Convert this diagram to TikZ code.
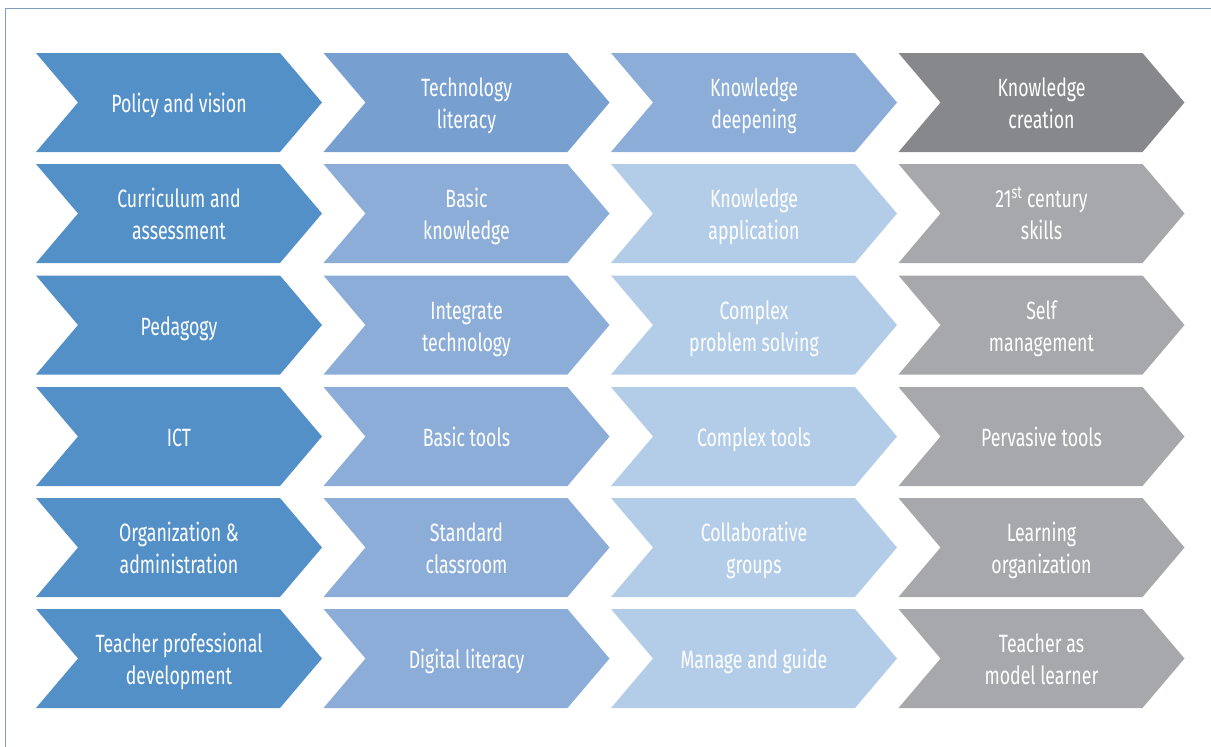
\documentclass[tikz,border=0pt]{standalone}
\usepackage{fontspec}
\setmainfont{Fira Sans}[FakeStretch=0.71]
\usetikzlibrary{calc}
\definecolor{cA}{HTML}{5490C8}
\definecolor{cB}{HTML}{779FD0}
\definecolor{cC}{HTML}{8CADD8}
\definecolor{cD}{HTML}{B3CDE8}
\definecolor{cE}{HTML}{87888C}
\definecolor{cF}{HTML}{A6A8AB}
\definecolor{frame}{HTML}{7E9DBF}
\tikzset{
  lbl/.style={text=white, align=center, font=\fontsize{25}{32}\selectfont, inner sep=0pt},
}
\newcommand{\brk}{\strut\\\strut}
% #1 name, #2 left x, #3 top y, #4 colour, #5 text
\newcommand{\chev}[5]{%
  \fill[#4] (#2,#3) -- ++(244,0) -- ++(42,49.5) -- ++(-42,49.5) -- ++(-244,0) -- ++(42,-49.5) -- cycle;
  \node[lbl] (#1) at ($(#2,#3)+(143,53.3)$) {\strut #5\strut};
}
\begin{document}
\begin{tikzpicture}[x=1pt,y=-1pt]
\useasboundingbox (0,0) rectangle (1211,747);
\draw[frame, line width=1.3pt] (5.5,760) -- (5.5,8.5) -- (1220,8.5);
% column 1
\chev{a1}{36}{53}{cA}{Policy and vision}
\chev{a2}{36}{164}{cA}{Curriculum and\brk assessment}
\chev{a3}{36}{275.5}{cA}{Pedagogy}
\chev{a4}{36}{387}{cA}{ICT}
\chev{a5}{36}{498}{cA}{Organization \&\brk administration}
\chev{a6}{36}{609}{cA}{Teacher professional\brk development}
% column 2
\chev{b1}{323.5}{53}{cB}{Technology\brk literacy}
\chev{b2}{323.5}{164}{cC}{Basic\brk knowledge}
\chev{b3}{323.5}{275.5}{cC}{Integrate\brk technology}
\chev{b4}{323.5}{387}{cC}{Basic tools}
\chev{b5}{323.5}{498}{cC}{Standard\brk classroom}
\chev{b6}{323.5}{609}{cC}{Digital literacy}
% column 3
\chev{c1}{611}{53}{cC}{Knowledge\brk deepening}
\chev{c2}{611}{164}{cD}{Knowledge\brk application}
\chev{c3}{611}{275.5}{cD}{Complex\brk problem solving}
\chev{c4}{611}{387}{cD}{Complex tools}
\chev{c5}{611}{498}{cD}{Collaborative\brk groups}
\chev{c6}{611}{609}{cD}{Manage and guide}
% column 4
\chev{d1}{898.5}{53}{cE}{Knowledge\brk creation}
\chev{d2}{898.5}{164}{cF}{21\textsuperscript{st} century\brk skills}
\chev{d3}{898.5}{275.5}{cF}{Self\brk management}
\chev{d4}{898.5}{387}{cF}{Pervasive tools}
\chev{d5}{898.5}{498}{cF}{Learning\brk organization}
\chev{d6}{898.5}{609}{cF}{Teacher as\brk model learner}
\end{tikzpicture}
\end{document}
